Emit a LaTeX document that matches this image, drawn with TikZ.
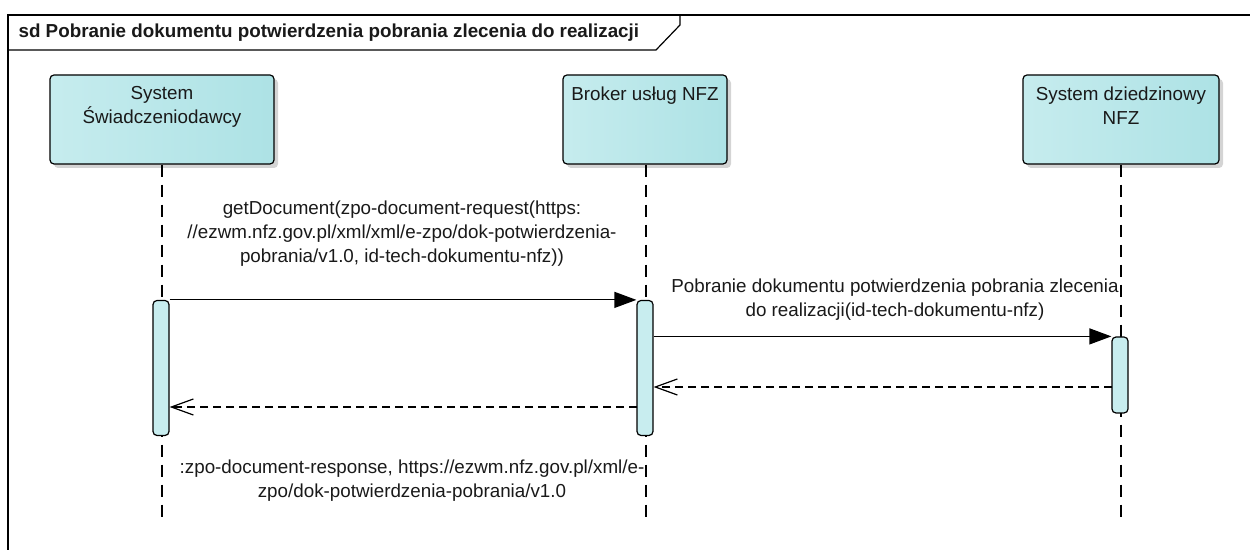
\documentclass[tikz,border=0pt]{standalone}
\usepackage{fontspec}
\setmainfont{Liberation Sans}
\usetikzlibrary{arrows.meta,shadows}

\definecolor{boxleft}{HTML}{C6ECEE}
\definecolor{boxright}{HTML}{ADE2E5}
\definecolor{barfill}{HTML}{C8EDEF}
\definecolor{shade}{HTML}{D4D4D4}

\begin{document}
\begin{tikzpicture}[
        x=0.5pt, y=-0.5pt,
        line width=0.6pt,
        every node/.style={font=\fontsize{9.4}{12}\selectfont, text=black!90},
        actor/.style={rectangle, draw, rounded corners=2pt, left color=boxleft, right color=boxright,
          drop shadow={shadow xshift=2pt, shadow yshift=-2pt, fill=shade, opacity=1},
          minimum height=44.5pt, inner sep=0pt},
        actlabel/.style={anchor=north, align=center, inner sep=0pt},
        bar/.style={rectangle, draw, rounded corners=2pt, fill=barfill, minimum width=8pt, inner sep=0pt},
        lifeline/.style={dash pattern=on 6pt off 4pt},
        call/.style={-{Triangle[length=11pt, width=8pt]}},
        reply/.style={-{Straight Barb[length=11pt, width=8pt]}, dash pattern=on 4pt off 2.5pt},
        msg/.style={align=center, inner sep=0pt}
      ]
      \useasboundingbox (0,0) rectangle (1250,550);

      % frame
      \draw (8,550) -- (8,15) -- (1250,15);
      \draw (8,50) -- (656,50) -- (680,25) -- (680,15);
      \node[anchor=west, inner sep=0pt, font=\fontsize{9.4}{12}\selectfont\bfseries] (title) at (18,33)
        {sd Pobranie dokumentu potwierdzenia pobrania zlecenia do realizacji};

      % lifelines
      \node[actor, minimum width=112pt] (sys) at (162,119.5) {};
      \node[actor, minimum width=82pt] (broker) at (645,119.5) {};
      \node[actor, minimum width=98pt] (dom) at (1121,119.5) {};
      \node[actlabel] (sysText) at (162,86) {System\\Świadczeniodawcy};
      \node[actlabel] (brokerText) at (645,86) {Broker usług NFZ};
      \node[actlabel] (domText) at (1121,86) {System dziedzinowy\\NFZ};

      \coordinate (sysEnd) at (162,520);
      \coordinate (brokerEnd) at (646,520);
      \coordinate (domEnd) at (1121,520);
      \draw[lifeline] (sys) -- (sysEnd);
      \draw[lifeline] (broker.south -| brokerEnd) -- (brokerEnd);
      \draw[lifeline] (dom) -- (domEnd);

      % activations
      \node[bar, minimum height=67.5pt] (act1) at (161,368) {};
      \node[bar, minimum height=67.5pt] (act2) at (645,368) {};
      \node[bar, minimum height=38pt] (act3) at (1120,375) {};

      % messages
      \draw[call] (act1.north east) -- (act2.north west);
      \draw[call] (act2.east |- act3.north) -- (act3.north west);
      \coordinate (ret1) at (1112,387);
      \coordinate (ret2) at (637,407);
      \draw[reply] (ret1) -- (act2.east |- ret1);
      \draw[reply] (ret2) -- (act1.east |- ret2);

      \node[msg] (m1) at (402,234) {getDocument(zpo-document-request(https:\\//ezwm.nfz.gov.pl/xml/xml/e-zpo/dok-potwierdzenia-\\pobrania/v1.0, id-tech-dokumentu-nfz))};
      \node[msg] (m2) at (895,300) {Pobranie dokumentu potwierdzenia pobrania zlecenia\\do realizacji(id-tech-dokumentu-nfz)};
      \node[msg] (m3) at (412,481) {:zpo-document-response, https://ezwm.nfz.gov.pl/xml/e-\\zpo/dok-potwierdzenia-pobrania/v1.0};
    \end{tikzpicture}
\end{document}
